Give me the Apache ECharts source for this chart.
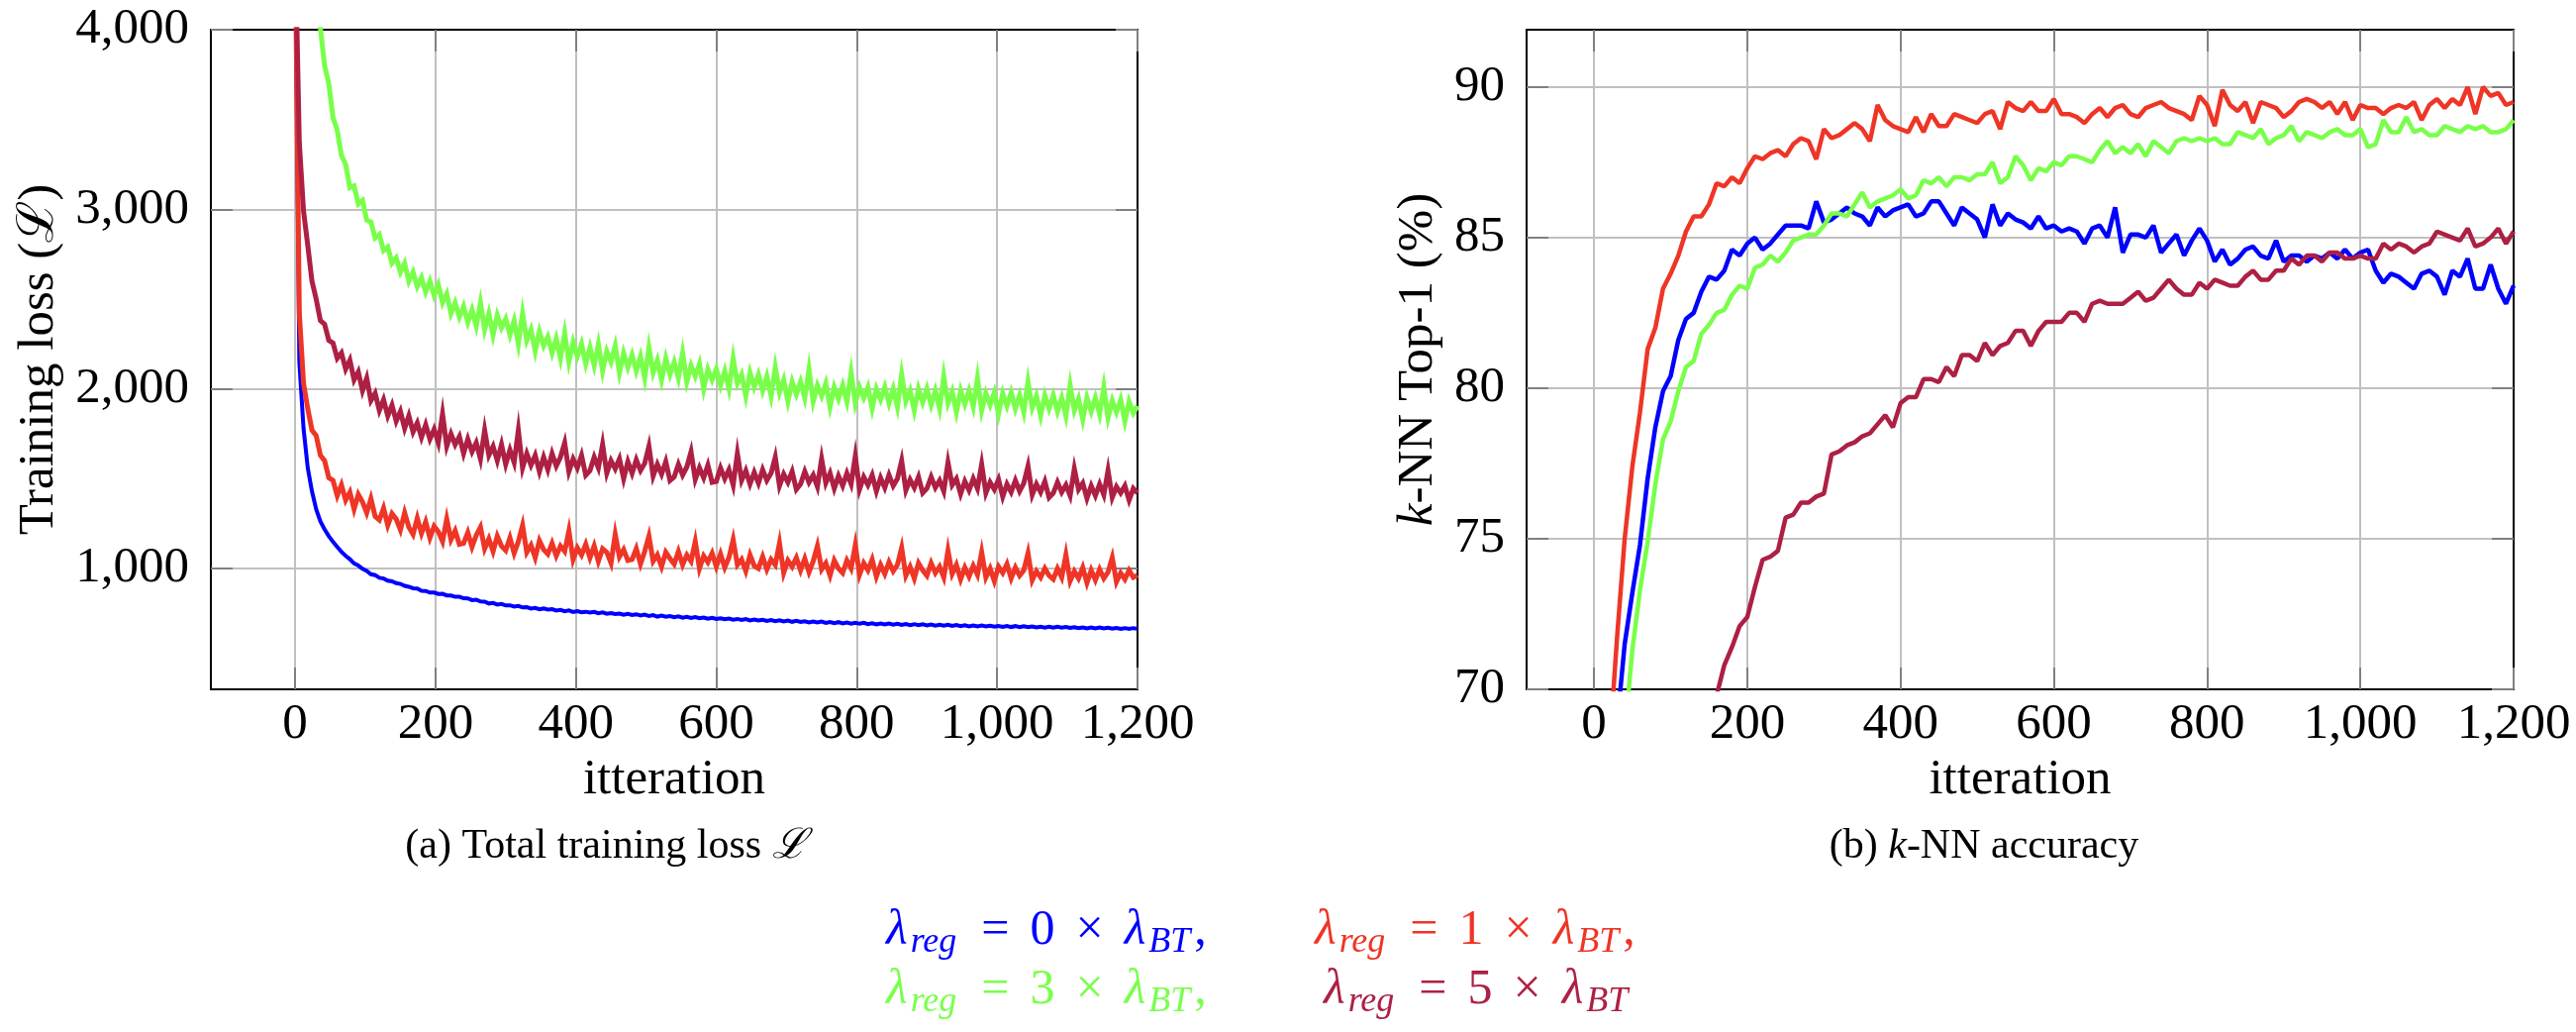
<!DOCTYPE html>
<html>
<head>
<meta charset="utf-8">
<script src="https://cdn.jsdelivr.net/npm/echarts@6/dist/echarts.min.js"></script>
<style>
  html, body { margin: 0; padding: 0; background: #fff; }
  #main { width: 2602px; height: 1042px; }
</style>
</head>
<body>
<div id="main"></div>
<script>
var FONT = "'Liberation Serif', 'Times New Roman', serif";

// iteration spacing of the logged points
var LOSS_STEP = 6;
var KNN_STEP = 10;

var xTicks = [0, 200, 400, 600, 800, 1000, 1200];
var lossTicks = [1000, 2000, 3000, 4000];
var knnTicks = [70, 75, 80, 85, 90];

var seriesNames = ['λreg = 0 × λBT', 'λreg = 1 × λBT', 'λreg = 3 × λBT', 'λreg = 5 × λBT'];
var colors = ['#0000ff', '#ee3526', '#79ff4a', '#ad2043'];

// total training loss, one value every 6 iterations (0 .. 1200)
var lossReg0 = [
  4600, 2150, 1780, 1560, 1430, 1330, 1262, 1218, 1180, 1148,
  1120, 1093, 1070, 1052, 1028, 1016, 998, 986, 968, 963,
  948, 944, 932, 928, 918, 914, 903, 898, 890, 888,
  876, 875, 866, 866, 858, 859, 850, 849, 842, 842,
  834, 833, 824, 826, 816, 815, 805, 808, 799, 802,
  794, 795, 788, 791, 783, 784, 777, 780, 773, 777,
  771, 773, 766, 769, 762, 766, 758, 762, 756, 759,
  754, 758, 751, 755, 748, 752, 746, 749, 742, 747,
  741, 745, 738, 743, 735, 740, 732, 737, 731, 735,
  729, 733, 726, 731, 724, 729, 723, 727, 720, 725,
  719, 723, 717, 721, 715, 719, 713, 718, 711, 716,
  710, 714, 708, 713, 706, 711, 705, 710, 703, 708,
  702, 706, 700, 705, 699, 704, 697, 702, 696, 701,
  694, 699, 693, 698, 692, 697, 690, 695, 689, 694,
  688, 693, 687, 692, 686, 691, 685, 690, 684, 689,
  683, 688, 682, 687, 681, 686, 680, 685, 679, 684,
  678, 683, 677, 682, 677, 681, 676, 680, 675, 680,
  674, 679, 673, 678, 673, 677, 672, 676, 671, 676,
  670, 675, 670, 674, 669, 673, 668, 672, 667, 672,
  666, 671, 666, 670, 665, 669, 664, 668, 663, 668,
  664
];
var lossReg1 = [
  4500, 2420, 2030, 1890, 1770, 1740, 1630, 1600, 1505, 1490,
  1405, 1465, 1380, 1425, 1330, 1412, 1370, 1310, 1388, 1290,
  1270, 1335, 1240, 1305, 1275, 1215, 1310, 1230, 1190, 1280,
  1195, 1260, 1170, 1235, 1205, 1150, 1275, 1160, 1210, 1135,
  1140, 1200, 1120, 1185, 1230, 1110, 1165, 1095, 1180, 1125,
  1100, 1170, 1085, 1150, 1240, 1090, 1130, 1060, 1155, 1105,
  1080, 1140, 1070, 1125, 1095, 1210, 1050, 1115, 1075, 1135,
  1060, 1125, 1040, 1110, 1090, 1030, 1190, 1065, 1105, 1045,
  1050, 1110, 1025, 1095, 1180, 1040, 1075, 1010, 1090, 1055,
  1025, 1095, 1020, 1075, 1040, 1150, 1000, 1070, 1035, 1085,
  1010, 1080, 1005, 1060, 1160, 1020, 1050, 985, 1075, 1015,
  1000, 1065, 995, 1050, 1020, 1140, 975, 1045, 1010, 1060,
  990, 1055, 980, 1040, 1125, 995, 1030, 960, 1045, 1000,
  975, 1045, 1000, 1130, 965, 1030, 990, 1050, 955, 1020,
  970, 1035, 985, 1020, 1115, 960, 1010, 945, 1030, 990,
  960, 1030, 975, 1010, 950, 1100, 970, 1020, 940, 1005,
  955, 1015, 965, 1090, 950, 1000, 930, 1010, 975, 1025,
  945, 1005, 960, 990, 1085, 935, 985, 950, 1000, 960,
  940, 1000, 950, 1075, 930, 985, 945, 1005, 920, 990,
  935, 995, 945, 980, 1060, 925, 975, 940, 990, 950,
  962
];
var lossReg3 = [
  null, null, null, null, 4500, 4200, 4010, 3800, 3700, 3510,
  3440, 3300, 3250, 3120, 3130, 3030, 3050, 2940, 2930, 2840,
  2860, 2770, 2790, 2700, 2730, 2650, 2700, 2600, 2650, 2570,
  2620, 2540, 2600, 2520, 2580, 2480, 2530, 2420, 2480, 2400,
  2460, 2370, 2440, 2350, 2480, 2330, 2420, 2300, 2410, 2340,
  2390, 2300, 2380, 2250, 2420, 2270, 2330, 2210, 2320, 2240,
  2290, 2200, 2280, 2170, 2310, 2150, 2260, 2180, 2250, 2140,
  2230, 2130, 2250, 2100, 2210, 2150, 2240, 2090, 2200, 2120,
  2190, 2100, 2180, 2060, 2230, 2090, 2160, 2050, 2170, 2080,
  2150, 2060, 2200, 2040, 2130, 2070, 2140, 2000, 2110, 2050,
  2110, 2020, 2100, 2000, 2170, 2030, 2080, 1960, 2090, 2010,
  2080, 1990, 2070, 1960, 2120, 1980, 2050, 1930, 2040, 1970,
  2040, 1950, 2110, 1930, 2020, 1960, 2030, 1900, 2010, 1945,
  2020, 1930, 2090, 1920, 2010, 1950, 2010, 1890, 2000, 1940,
  2010, 1920, 2000, 1900, 2080, 1930, 1990, 1880, 2000, 1925,
  2000, 1910, 1990, 1890, 2070, 1920, 1985, 1870, 1990, 1915,
  1990, 1900, 2060, 1880, 1975, 1910, 1980, 1860, 1975, 1905,
  1980, 1890, 1965, 1870, 2040, 1895, 1960, 1850, 1965, 1890,
  1965, 1875, 1950, 1850, 2020, 1880, 1945, 1830, 1950, 1875,
  1950, 1860, 2010, 1840, 1935, 1870, 1940, 1820, 1930, 1865,
  1905
];
var lossReg5 = [
  4500, 3370, 2990, 2800, 2600, 2500, 2380, 2360, 2270, 2255,
  2170, 2200, 2110, 2160, 2050, 2095, 1990, 2060, 1935, 1975,
  1880, 1940, 1850, 1910, 1820, 1875, 1780, 1850, 1760, 1810,
  1730, 1800, 1720, 1775, 1700, 1860, 1680, 1750, 1690, 1735,
  1640, 1720, 1650, 1700, 1610, 1770, 1630, 1680, 1600, 1690,
  1580, 1660, 1590, 1770, 1560, 1640, 1575, 1630, 1540, 1620,
  1550, 1640, 1570, 1620, 1700, 1540, 1610, 1560, 1630, 1520,
  1545, 1620, 1560, 1690, 1530, 1600, 1555, 1610, 1500, 1595,
  1530, 1605, 1545, 1585, 1680, 1515, 1580, 1525, 1595, 1490,
  1510, 1580, 1520, 1565, 1650, 1495, 1560, 1505, 1575, 1480,
  1485, 1560, 1500, 1550, 1465, 1640, 1490, 1545, 1470, 1535,
  1475, 1550, 1490, 1530, 1620, 1460, 1525, 1480, 1540, 1440,
  1470, 1540, 1480, 1520, 1455, 1610, 1475, 1530, 1445, 1515,
  1460, 1530, 1470, 1625, 1440, 1510, 1465, 1520, 1430, 1505,
  1450, 1520, 1460, 1500, 1600, 1435, 1495, 1450, 1510, 1420,
  1445, 1510, 1450, 1490, 1430, 1590, 1465, 1500, 1415, 1485,
  1435, 1500, 1445, 1580, 1420, 1480, 1440, 1495, 1400, 1470,
  1425, 1490, 1430, 1475, 1570, 1410, 1470, 1425, 1485, 1395,
  1420, 1480, 1425, 1465, 1405, 1555, 1440, 1475, 1390, 1460,
  1405, 1470, 1410, 1545, 1395, 1455, 1420, 1460, 1380, 1445,
  1420
];

// k-NN top-1 accuracy (%), one value every 10 iterations (0 .. 1200)
var knnReg0 = [
  null, null, null, 68.8, 71.5, 73.2, 74.8, 77.0, 78.7, 79.9,
  80.4, 81.6, 82.3, 82.5, 83.2, 83.7, 83.6, 83.9, 84.6, 84.4,
  84.8, 85.0, 84.6, 84.8, 85.1, 85.4, 85.4, 85.4, 85.3, 86.2,
  85.5, 85.6, 85.8, 86.0, 85.8, 85.7, 85.4, 86.0, 85.7, 85.9,
  86.0, 86.1, 85.7, 85.8, 86.2, 86.2, 85.8, 85.4, 86.0, 85.8,
  85.6, 85.0, 86.1, 85.4, 85.8, 85.6, 85.5, 85.3, 85.7, 85.3,
  85.4, 85.2, 85.3, 85.2, 84.8, 85.3, 85.4, 85.0, 86.0, 84.5,
  85.1, 85.1, 85.0, 85.4, 84.5, 84.8, 85.1, 84.4, 84.9, 85.3,
  84.9, 84.2, 84.6, 84.1, 84.3, 84.6, 84.7, 84.4, 84.3, 84.9,
  84.2, 84.4, 84.4, 84.2, 84.4, 84.3, 84.5, 84.3, 84.6, 84.3,
  84.5, 84.6, 83.9, 83.5, 83.8, 83.7, 83.5, 83.3, 83.8, 83.9,
  83.7, 83.1, 83.9, 83.7, 84.3, 83.3, 83.3, 84.1, 83.3, 82.8,
  83.4
];
var knnReg1 = [
  null, null, 68.0, 71.7, 75.0, 77.4, 79.2, 81.3, 82.0, 83.3,
  83.8, 84.4, 85.2, 85.7, 85.7, 86.1, 86.8, 86.7, 87.0, 86.8,
  87.3, 87.7, 87.6, 87.8, 87.9, 87.7, 88.1, 88.3, 88.2, 87.6,
  88.6, 88.3, 88.4, 88.6, 88.8, 88.6, 88.2, 89.4, 88.9, 88.7,
  88.6, 88.5, 89.0, 88.5, 89.1, 88.7, 88.7, 89.1, 89.0, 88.9,
  88.8, 89.1, 89.2, 88.6, 89.5, 89.3, 89.2, 89.5, 89.2, 89.2,
  89.6, 89.1, 89.1, 89.0, 88.8, 89.1, 89.3, 89.0, 89.3, 89.4,
  89.1, 89.0, 89.3, 89.4, 89.5, 89.3, 89.2, 89.1, 88.9, 89.7,
  89.4, 88.7, 89.9, 89.4, 89.2, 89.5, 88.8, 89.5, 89.4, 89.3,
  89.0, 89.2, 89.5, 89.6, 89.5, 89.3, 89.5, 89.1, 89.5, 88.9,
  89.4, 89.3, 89.3, 89.1, 89.3, 89.4, 89.3, 89.5, 88.9, 89.4,
  89.6, 89.3, 89.6, 89.4, 90.0, 89.1, 90.0, 89.7, 89.8, 89.4,
  89.5
];
var knnReg3 = [
  null, null, null, null, 68.5, 71.3, 73.3, 74.9, 76.8, 78.3,
  78.9, 79.9, 80.7, 80.9, 81.8, 82.1, 82.5, 82.6, 83.1, 83.4,
  83.3, 84.0, 84.1, 84.4, 84.2, 84.5, 84.9, 85.0, 85.1, 85.1,
  85.4, 85.8, 85.8, 85.7, 86.1, 86.5, 86.0, 86.2, 86.3, 86.4,
  86.6, 86.3, 86.4, 86.9, 86.8, 87.0, 86.7, 87.0, 87.0, 86.9,
  87.1, 87.1, 87.5, 86.8, 87.0, 87.7, 87.4, 86.9, 87.3, 87.2,
  87.5, 87.4, 87.7, 87.7, 87.6, 87.5, 87.9, 88.2, 87.8, 88.0,
  87.8, 88.1, 87.7, 88.2, 88.0, 87.8, 88.2, 88.3, 88.2, 88.3,
  88.2, 88.3, 88.1, 88.1, 88.5, 88.4, 88.3, 88.6, 88.1, 88.3,
  88.4, 88.7, 88.2, 88.5, 88.4, 88.3, 88.5, 88.6, 88.4, 88.4,
  88.6, 88.0, 88.1, 88.9, 88.5, 88.5, 89.0, 88.5, 88.6, 88.4,
  88.4, 88.7, 88.6, 88.5, 88.7, 88.6, 88.7, 88.5, 88.5, 88.6,
  88.9
];
var knnReg5 = [
  null, null, null, null, null, null, null, null, null, null,
  null, null, null, null, null, null, 69.8, 70.8, 71.4, 72.1,
  72.4, 73.4, 74.3, 74.4, 74.6, 75.7, 75.8, 76.2, 76.2, 76.4,
  76.5, 77.8, 77.9, 78.1, 78.2, 78.4, 78.5, 78.8, 79.1, 78.7,
  79.5, 79.7, 79.7, 80.3, 80.3, 80.2, 80.7, 80.4, 81.1, 81.1,
  80.9, 81.5, 81.1, 81.4, 81.5, 81.9, 81.9, 81.4, 81.9, 82.2,
  82.2, 82.2, 82.5, 82.5, 82.2, 82.8, 82.9, 82.8, 82.8, 82.8,
  83.0, 83.2, 82.9, 83.0, 83.3, 83.6, 83.3, 83.1, 83.1, 83.5,
  83.3, 83.6, 83.5, 83.4, 83.4, 83.7, 83.9, 83.6, 83.6, 83.9,
  83.9, 84.3, 84.1, 84.4, 84.4, 84.2, 84.5, 84.5, 84.3, 84.3,
  84.4, 84.3, 84.3, 84.8, 84.6, 84.8, 84.7, 84.5, 84.7, 84.8,
  85.2, 85.1, 85.0, 84.9, 85.3, 84.7, 84.8, 85.0, 85.3, 84.8,
  85.2
];

function toPairs(values, step) {
  return values.map(function (v, i) { return [i * step, v]; });
}

function thousands(v) {
  return v.toLocaleString('en-US');
}

var myChart = echarts.init(document.getElementById('main'), null, { renderer: 'canvas' });

var labelStyle = { fontFamily: FONT, fontSize: 51, color: '#000' };

function frameX(gridIndex, min, showLabels, position) {
  return {
    type: 'value', gridIndex: gridIndex, min: min, max: 1200, position: position,
    axisLine: { show: true, onZero: false, lineStyle: { color: '#000', width: 2 } },
    axisTick: { show: true, inside: true, length: 22, customValues: xTicks, lineStyle: { color: '#808080', width: 2 } },
    axisLabel: { show: showLabels, customValues: xTicks, margin: 10, formatter: thousands, fontFamily: FONT, fontSize: 51, color: '#000' },
    splitLine: { show: showLabels, lineStyle: { color: '#c0c0c0', width: 2 } }
  };
}

function frameY(gridIndex, min, max, ticks, showLabels, position, fmt) {
  return {
    type: 'value', gridIndex: gridIndex, min: min, max: max, position: position,
    axisLine: { show: true, onZero: false, lineStyle: { color: '#000', width: 2 } },
    axisTick: { show: true, inside: true, length: 22, customValues: ticks, lineStyle: { color: '#808080', width: 2 } },
    axisLabel: { show: showLabels, customValues: ticks, margin: 22, formatter: fmt, fontFamily: FONT, fontSize: 51, color: '#000' },
    splitLine: { show: showLabels, lineStyle: { color: '#c0c0c0', width: 2 } }
  };
}

var xBottomL = frameX(0, -120, true, 'bottom');
xBottomL.name = 'itteration';
xBottomL.nameLocation = 'middle';
xBottomL.nameGap = 60;
xBottomL.nameTextStyle = labelStyle;
var xBottomR = frameX(1, -88, true, 'bottom');
xBottomR.name = 'itteration';
xBottomR.nameLocation = 'middle';
xBottomR.nameGap = 60;
xBottomR.nameTextStyle = labelStyle;

var yLeftL = frameY(0, 327, 4000, lossTicks, true, 'left', thousands);
yLeftL.name = 'Training loss (ℒ)';
yLeftL.nameLocation = 'middle';
yLeftL.nameGap = 148;
yLeftL.nameTextStyle = labelStyle;
var yLeftR = frameY(1, 70, 91.9, knnTicks, true, 'left', function (v) { return String(v); });
yLeftR.name = '{i|k}-NN Top-1 (%)';
yLeftR.nameLocation = 'middle';
yLeftR.nameGap = 84;
yLeftR.nameTextStyle = {
  fontFamily: FONT, fontSize: 51, color: '#000',
  rich: { i: { fontFamily: FONT, fontSize: 51, fontStyle: 'italic', color: '#000' } }
};

function lossSeries(values, k) {
  return {
    name: seriesNames[k], type: 'line', xAxisIndex: 0, yAxisIndex: 0,
    data: toPairs(values, LOSS_STEP), showSymbol: false, connectNulls: false,
    clip: true, lineStyle: { color: colors[k], width: k === 0 ? 4 : 5, join: 'miter' }, itemStyle: { color: colors[k] }
  };
}
function knnSeries(values, k) {
  return {
    name: seriesNames[k], type: 'line', xAxisIndex: 2, yAxisIndex: 2,
    data: toPairs(values, KNN_STEP), showSymbol: false, connectNulls: false,
    clip: true, lineStyle: { color: colors[k], width: 4.5 }, itemStyle: { color: colors[k] }
  };
}

// legend entries written out as math-like rich text
function mathRich(color) {
  return {
    l: { fontFamily: FONT, fontSize: 50, fontStyle: 'italic', fill: color, verticalAlign: 'top', padding: [0, 3, 0, 0] },
    s: { fontFamily: FONT, fontSize: 36, fontStyle: 'italic', fill: color, verticalAlign: 'top', padding: [19, 4, 0, 0] },
    n: { fontFamily: FONT, fontSize: 50, fill: color, verticalAlign: 'top' },
    op: { fontFamily: FONT, fontSize: 50, fill: color, verticalAlign: 'top', padding: [0, 21, 0, 21] }
  };
}
function legendText(x, y, digit, comma, color) {
  return {
    type: 'text', x: x, y: y,
    style: {
      text: '{l|λ}{s|reg}{op|=}{n|' + digit + '}{op|×}{l|λ}{s|BT}' + (comma ? '{n|,}' : ''),
      rich: mathRich(color), fill: color, verticalAlign: 'top', align: 'left'
    }
  };
}

option = {
  animation: false,
  backgroundColor: '#fff',
  grid: [
    { left: 213, top: 30, width: 936, height: 666, containLabel: false },
    { left: 1542, top: 30, width: 997, height: 666, containLabel: false }
  ],
  xAxis: [
    xBottomL,
    frameX(0, -120, false, 'top'),
    xBottomR,
    frameX(1, -88, false, 'top')
  ],
  yAxis: [
    yLeftL,
    frameY(0, 327, 4000, lossTicks, false, 'right', thousands),
    yLeftR,
    frameY(1, 70, 91.9, knnTicks, false, 'right', null)
  ],
  series: [
    lossSeries(lossReg0, 0),
    lossSeries(lossReg1, 1),
    lossSeries(lossReg3, 2),
    lossSeries(lossReg5, 3),
    knnSeries(knnReg0, 0),
    knnSeries(knnReg1, 1),
    knnSeries(knnReg3, 2),
    knnSeries(knnReg5, 3)
  ],
  graphic: [
    {
      type: 'text', x: 612, y: 834,
      style: {
        text: '(a) Total training loss {c|ℒ}', fontFamily: FONT, fontSize: 42, fill: '#000',
        align: 'center', verticalAlign: 'top',
        rich: { c: { fontFamily: FONT, fontSize: 42, fontStyle: 'italic', fill: '#000' } }
      }
    },
    {
      type: 'text', x: 2004, y: 834,
      style: {
        text: '(b) {k|k}-NN accuracy', fontFamily: FONT, fontSize: 42, fill: '#000',
        align: 'center', verticalAlign: 'top',
        rich: { k: { fontFamily: FONT, fontSize: 42, fontStyle: 'italic', fill: '#000' } }
      }
    },
    legendText(895, 915, '0', true, colors[0]),
    legendText(1328, 915, '1', true, colors[1]),
    legendText(895, 975, '3', true, colors[2]),
    legendText(1337, 975, '5', false, colors[3])
  ]
};

myChart.setOption(option);
</script>
</body>
</html>
